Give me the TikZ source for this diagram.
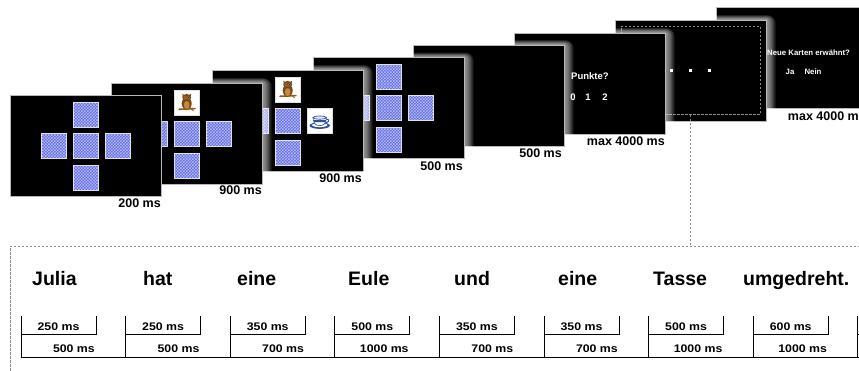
\documentclass[tikz,border=0pt]{standalone}
\usepackage{fontspec}
\setmainfont{Liberation Sans}
\newfontfamily\widesans[FakeStretch=1.12]{Liberation Sans}
\usetikzlibrary{patterns,calc}

\definecolor{cardblue}{HTML}{5A64E4}
\definecolor{cardlight}{HTML}{B4BAF7}
\definecolor{owlbrown}{HTML}{7B4A1A}
\definecolor{owllight}{HTML}{C08A45}
\definecolor{branchbrown}{HTML}{8C5C22}
\definecolor{cupblue}{HTML}{2E4FA8}
\definecolor{framegray}{HTML}{8A8A8A}

% fine checkered texture for the card backs
\pgfdeclarepatternformonly{finechecks}{\pgfqpoint{-0.05pt}{-0.05pt}}{\pgfqpoint{3.05pt}{3.05pt}}{\pgfqpoint{3pt}{3pt}}{%
  \pgfpathrectangle{\pgfpointorigin}{\pgfqpoint{1.5pt}{1.5pt}}%
  \pgfpathrectangle{\pgfqpoint{1.5pt}{1.5pt}}{\pgfqpoint{1.5pt}{1.5pt}}%
  \pgfusepath{fill}}

\tikzset{
  screen/.style={draw=gray!55, line width=0.8pt, fill=black,
    minimum width=151pt, minimum height=101pt, inner sep=0pt, outer sep=0pt,
    anchor=north west},
  timelabel/.style={font=\bfseries\fontsize{12.5}{14}\selectfont, inner sep=0pt, anchor=base east},
  screentext/.style={font=\bfseries\fontsize{9.5}{11}\selectfont, text=white, inner sep=0pt},
  smalltext/.style={font=\bfseries\fontsize{7.8}{9}\selectfont, text=white, inner sep=0pt},
  word/.style={font=\bfseries\fontsize{19.5}{22}\selectfont, inner sep=0pt, anchor=base west},
  durlabel/.style={font=\widesans\bfseries\fontsize{11}{13}\selectfont, inner sep=0pt},
  dashline/.style={draw=framegray, line width=0.9pt, dash pattern=on 2.5pt off 1.5pt},
  tick/.style={line width=0.9pt, black},
}

% face-down card with checkered back
\newcommand\card[2]{%
  \fill[cardblue] (#1,#2) rectangle ++(25.5,25);
  \path[pattern=finechecks, pattern color=cardlight, draw=gray!25, line width=0.8pt]
    (#1,#2) rectangle ++(25.5,25);}

% face-up card showing an owl on a branch
\newcommand\owlcard[2]{%
  \begin{scope}[shift={(#1,#2)}]
    \fill[white, draw=gray!25, line width=0.8pt] (0,0) rectangle (25.5,25);
    \draw[branchbrown, line width=1.6pt, line cap=round] (5,19.3) -- (21,18.6);
    \draw[branchbrown, line width=0.8pt] (17.5,18.8) -- (19.5,21);
    \fill[owlbrown] (12.7,13.5) ellipse (5 and 6.3);
    \fill[owllight] (12.7,15) ellipse (2.8 and 4);
    \fill[owlbrown] (12.7,7.6) ellipse (4.4 and 3.7);
    \fill[owlbrown] (8.4,3.6) -- (10.6,5.5) -- (8.8,7.5) -- cycle;
    \fill[owlbrown] (17,3.6) -- (14.8,5.5) -- (16.6,7.5) -- cycle;
    \fill[owllight] (11,7.6) circle (1.4);
    \fill[owllight] (14.4,7.6) circle (1.4);
    \fill[black] (11,7.6) circle (0.6);
    \fill[black] (14.4,7.6) circle (0.6);
    \fill[orange!80!black] (12.7,9.2) -- (12.1,8.3) -- (13.3,8.3) -- cycle;
    \fill[orange!70!black] (10.8,18.6) circle (0.9);
    \fill[orange!70!black] (14.6,18.6) circle (0.9);
  \end{scope}}

% face-up card showing a teacup on its saucer
\newcommand\cupcard[2]{%
  \begin{scope}[shift={(#1,#2)}]
    \fill[white, draw=gray!25, line width=0.8pt] (0,0) rectangle (25.5,25);
    \fill[cupblue] (12.7,17.6) ellipse (10.2 and 3.3);
    \fill[white] (12.7,17.1) ellipse (7.6 and 2);
    \draw[cupblue, line width=1pt] (19,11.2) .. controls (22.8,10.6) and (22.6,14.8) .. (18.2,14.6);
    \fill[white, draw=cupblue, line width=0.6pt] (6,9.6) -- (19.4,9.6)
      .. controls (19,15.8) and (16.4,17.6) .. (12.7,17.6)
      .. controls (9,17.6) and (6.4,15.8) .. (6,9.6) -- cycle;
    \fill[cupblue] (6.5,12.2) -- (18.9,12.2) -- (18.3,14) -- (7.1,14) -- cycle;
    \fill[white!85!cupblue, draw=cupblue, line width=0.7pt] (12.7,9.6) ellipse (6.7 and 1.6);
  \end{scope}}

% soft white halo round a screen, seen over the screens behind it
\newcommand\halo[2]{%
  \foreach \k in {1,...,8}{
    \fill[white, opacity=0.11, rounded corners=\k pt]
      (#1,#2-0.6*\k) rectangle (#1+151+1.2*\k,#2+101+\k);
  }}

\begin{document}
\begin{tikzpicture}[x=1pt,y=-1pt]
\useasboundingbox (0,0) rectangle (859,370);
\clip (0,0) rectangle (859,370);

% ---- screen 8: question about new cards
\halo{716}{7}
\node[screen] (s8) at (716,7) {};
\node[smalltext, anchor=base west] (q8) at (767,55) {Neue Karten erwähnt?};
\node[smalltext, anchor=base] (ja) at (790,74) {Ja};
\node[smalltext, anchor=base] (nein) at (813,74) {Nein};

% ---- screen 7: listening phase with fixation dots
\halo{615}{20}
\node[screen] (s7) at (615,20) {};
\node[draw=framegray, line width=0.8pt, dash pattern=on 2.5pt off 1.5pt,
  minimum width=139pt, minimum height=88pt, inner sep=0pt, anchor=north west]
  (zoomframe) at (621,26) {};
\fill[white] (669.5,68.5) rectangle ++(3,3);
\fill[white] (688.5,68.5) rectangle ++(3,3);
\fill[white] (707.5,68.5) rectangle ++(3,3);

% ---- screen 6: points question
\halo{514}{33}
\node[screen] (s6) at (514,33) {};
\node[screentext, anchor=base west] (punkte) at (571,79) {Punkte?};
\node[screentext, anchor=base] (p0) at (573,100.5) {0};
\node[screentext, anchor=base] (p1) at (588,100.5) {1};
\node[screentext, anchor=base] (p2) at (605,100.5) {2};

% ---- screen 5: blank
\halo{413}{45}
\node[screen] (s5) at (413,45) {};

% ---- screen 4: all cards face down
\halo{313}{57.5}
\node[screen] (s4) at (313,57.5) {};
\begin{scope}[shift={(313,57.5)}]
  \card{63}{7}\card{31}{38}\card{63}{38}\card{95}{38}\card{63}{70}
\end{scope}

% ---- screen 3: owl and teacup turned over
\halo{212}{70}
\node[screen] (s3) at (212,70) {};
\begin{scope}[shift={(212,70)}]
  \owlcard{63}{7}\card{31}{38}\card{63}{38}\cupcard{95}{38}\card{63}{70}
\end{scope}

% ---- screen 2: owl turned over
\halo{111}{83}
\node[screen] (s2) at (111,83) {};
\begin{scope}[shift={(111,83)}]
  \owlcard{63}{7}\card{31}{38}\card{63}{38}\card{95}{38}\card{63}{70}
\end{scope}

% ---- screen 1: initial card layout
\node[screen] (s1) at (10,95) {};
\begin{scope}[shift={(10,95)}]
  \card{63}{7}\card{31}{38}\card{63}{38}\card{95}{38}\card{63}{70}
\end{scope}

% ---- durations below the screens
\node[timelabel] (t1) at (161,207) {200 ms};
\node[timelabel] (t2) at (262,194) {900 ms};
\node[timelabel] (t3) at (362,182) {900 ms};
\node[timelabel] (t4) at (463,170) {500 ms};
\node[timelabel] (t5) at (562,157.5) {500 ms};
\node[timelabel] (t6) at (665,145.5) {max 4000 ms};
\node[timelabel] (t8) at (866,120.5) {max 4000 ms};

% ---- expanded sentence timeline
\node[dashline, minimum width=880pt, minimum height=150pt, inner sep=0pt,
  anchor=north west] (panel) at (10,246) {};
\draw[dashline] (zoomframe.south) -- (zoomframe.south |- panel.north);

\node[word] (w1) at (32,285) {Julia};
\node[word] (w2) at (143,285) {hat};
\node[word] (w3) at (237,285) {eine};
\node[word] (w4) at (348,285) {Eule};
\node[word] (w5) at (454,285) {und};
\node[word] (w6) at (558,285) {eine};
\node[word] (w7) at (653,285) {Tasse};
\node[word] (w8) at (743,285) {umgedreht.};

\draw[tick] (21,357.3) -- (880,357.3);
\foreach \i/\up/\down in {0/250/500, 1/250/500, 2/350/700, 3/500/1000,
                          4/350/700, 5/350/700, 6/500/1000, 7/600/1000}{
  \pgfmathsetmacro\xs{21+104.6*\i}
  \draw[tick] (\xs,316) -- (\xs,357.3);
  \draw[tick] (\xs,334.3) -- ++(75,0) -- ++(0,-18.3);
  \node[durlabel, anchor=base] (u\i) at (\xs+37.5,330.5) {\up\ ms};
  \node[durlabel, anchor=base east] (d\i) at (\xs+74,352) {\down\ ms};
}
% start of the next word's interval at the right edge
\coordinate (nextstart) at (857.8,316);
\draw[tick] (nextstart) -- (nextstart |- 0,357.3);
\draw[tick] (nextstart |- 0,334.3) -- ++(75,0);
\end{tikzpicture}
\end{document}
